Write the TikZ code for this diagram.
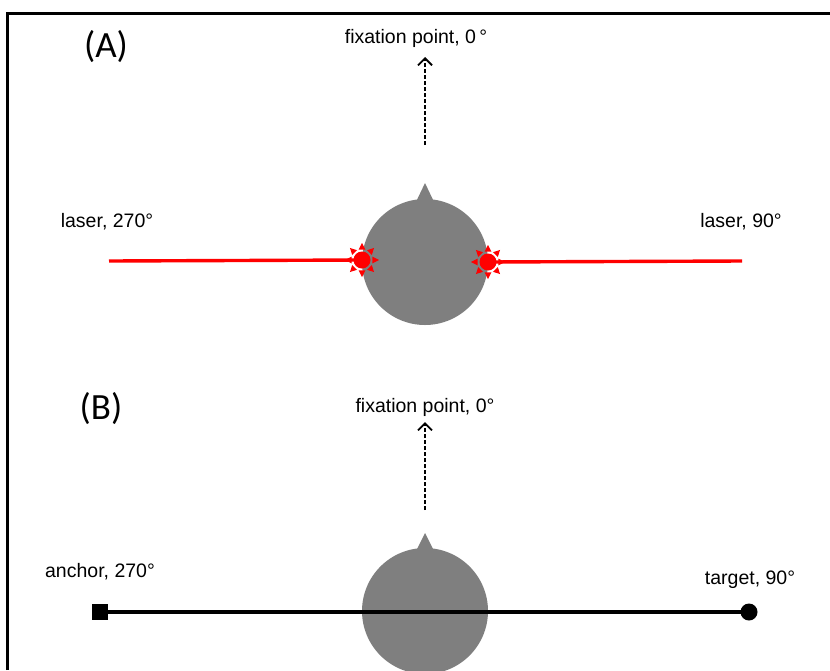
\documentclass[tikz,border=0pt]{standalone}
\usepackage{fontspec}
\usetikzlibrary{arrows.meta}
\setmainfont{Liberation Sans}
\newfontfamily\calib{Carlito}
\definecolor{headgray}{HTML}{7F7F7F}
\definecolor{laserred}{HTML}{FF0000}
\begin{document}
\begin{tikzpicture}[x=1pt,y=-1pt,
  lbl/.style={inner sep=0pt,font=\fontsize{19.5}{23}\selectfont},
  panel/.style={inner sep=0pt,font=\calib\fontsize{37}{44}\selectfont},
  fixarrow/.style={dash pattern=on 4pt off 2pt,line width=1.6pt,-{Straight Barb[length=7pt,width=14pt,line width=1.8pt]}},
  headfill/.style={fill=headgray,draw=none},
  laserline/.style={draw=laserred,line width=3.4pt},
  blackline/.style={draw=black,line width=3.4pt},
]
\useasboundingbox (0,0) rectangle (830,670);
% frame
\draw[line width=3pt] (7,670) -- (7,13) -- (830,13);

% ---------- Panel A ----------
\node[panel] (labA) at (106,47) {(A)};
\node[lbl] (fixA) at (416,38) {fixation point, 0\,°};
\coordinate (fixAbot) at (425,145);
\coordinate (fixAtop) at (425,57);
\draw[fixarrow] (fixAbot) -- (fixAtop);

\fill[headfill] (415,204) -- (425,183) -- (435,204) -- cycle;
\node[circle,headfill,minimum size=126pt,inner sep=0pt] (headA) at (425,262) {};

\node[lbl] (las270) at (107,222) {laser, 270°};
\node[lbl] (las90) at (741,222) {laser, 90°};

\coordinate (lasL) at (109,261);
\coordinate (lasR) at (742,261);
\node[circle,fill=laserred,minimum size=17pt,inner sep=0pt] (dotL) at (362,260) {};
\node[circle,fill=laserred,minimum size=17pt,inner sep=0pt] (dotR) at (488,262) {};
\draw[laserline] (lasL) -- (dotL.center);
\draw[laserline] (dotR.center) -- (lasR);
\foreach \c in {dotL,dotR}{
  \foreach \a in {0,45,...,315}{
    \fill[laserred] ([shift={(\a:17pt)}]\c.center) -- ([shift={(\a+18:11pt)}]\c.center) -- ([shift={(\a-18:11pt)}]\c.center) -- cycle;
  }
}

% ---------- Panel B ----------
\node[panel] (labB) at (101,409) {(B)};
\node[lbl] (fixB) at (425,407) {fixation point, 0°};
\coordinate (fixBbot) at (425,510);
\coordinate (fixBtop) at (425,422);
\draw[fixarrow] (fixBbot) -- (fixBtop);

\fill[headfill] (415,553) -- (425,533) -- (435,553) -- cycle;
\node[circle,headfill,minimum size=126pt,inner sep=0pt] (headB) at (425,611) {};

\node[lbl] (anchlbl) at (100,572) {anchor, 270°};
\node[lbl] (targlbl) at (750,580) {target, 90°};

\node[rectangle,fill=black,minimum size=16pt,inner sep=0pt] (anchor) at (100,612) {};
\node[circle,fill=black,minimum size=17pt,inner sep=0pt] (target) at (749,612) {};
\draw[blackline] (anchor.center) -- (target.center);
\end{tikzpicture}
\end{document}
